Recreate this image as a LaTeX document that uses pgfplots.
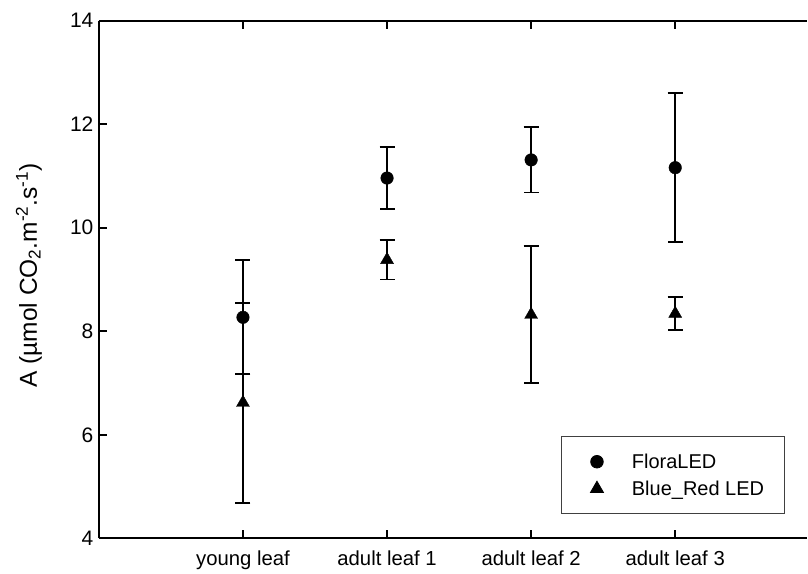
\documentclass[border=0pt]{standalone}
\usepackage{fontspec}
\setmainfont{Liberation Sans}
\usepackage{pgfplots}
\usepackage{pgfplotstable}
\pgfplotsset{compat=1.18}
\pgfplotstableread{
x y e
0 8.27 1.10
1 10.96 0.60
2 11.31 0.63
3 11.16 1.44
}\flora
\pgfplotstableread{
x y e
0 6.62 1.93
1 9.38 0.38
2 8.32 1.32
3 8.34 0.32
}\bluered
\begin{document}
\begin{tikzpicture}
\begin{axis}[
  scale only axis,
  width=709pt, height=518.3pt,
  at={(0,0)}, anchor=south west,
  xmin=-1, xmax=3.915,
  ymin=4, ymax=14,
  axis x line=box, axis y line=left,
  axis line style={-, line width=1.9pt},
  every outer y axis line/.append style={-},
  tick align=inside,
  major tick length=8pt,
  tick style={line width=1.9pt, black},
  xtick={0,1,2,3},
  xticklabels={young leaf, adult leaf 1, adult leaf 2, adult leaf 3},
  ytick={4,6,8,10,12,14},
  /pgf/number format/assume math mode=true,
  xticklabel style={yshift=-9pt, font=\fontsize{20.3}{24}\selectfont},
  yticklabel style={xshift=-2pt, font=\fontsize{21}{25}\selectfont},
  ylabel={A (µmol CO\textsubscript{2}.m\textsuperscript{-2}.s\textsuperscript{-1})},
  every axis y label/.style={at={(axis description cs:-0.0987,0.508)}, rotate=90, anchor=center, font=\fontsize{24.5}{28}\selectfont},
  legend style={at={(0.652,0.197)}, anchor=north west, draw=black!75, line width=0.8pt,
    inner xsep=18pt, inner ysep=15pt, row sep=7pt,
    font=\fontsize{20}{24}\selectfont, cells={anchor=west}},
  legend image code/.code={\path[draw=none,fill=none] (-18pt,0pt) -- (33pt,0pt); \draw[#1] plot coordinates {(0pt,0pt)};},
]
\addplot[only marks, mark=*, mark size=6.3pt, black,
  error bars/.cd, y dir=both, y explicit,
  error bar style={line width=1.9pt, black},
  error mark options={rotate=90, mark size=7.5pt, line width=1.9pt, black}]
  table[x=x, y=y, y error=e] {\flora};
\addlegendentry{FloraLED}
\addplot[only marks, mark=triangle*, mark size=7.5pt, black,
  error bars/.cd, y dir=both, y explicit,
  error bar style={line width=1.9pt, black},
  error mark options={rotate=90, mark size=7.5pt, line width=1.9pt, black}]
  table[x=x, y=y, y error=e] {\bluered};
\addlegendentry{Blue\_Red LED}
\end{axis}
\path[use as bounding box] (-99pt,-33pt) rectangle (709pt,539pt);
\end{tikzpicture}
\end{document}
